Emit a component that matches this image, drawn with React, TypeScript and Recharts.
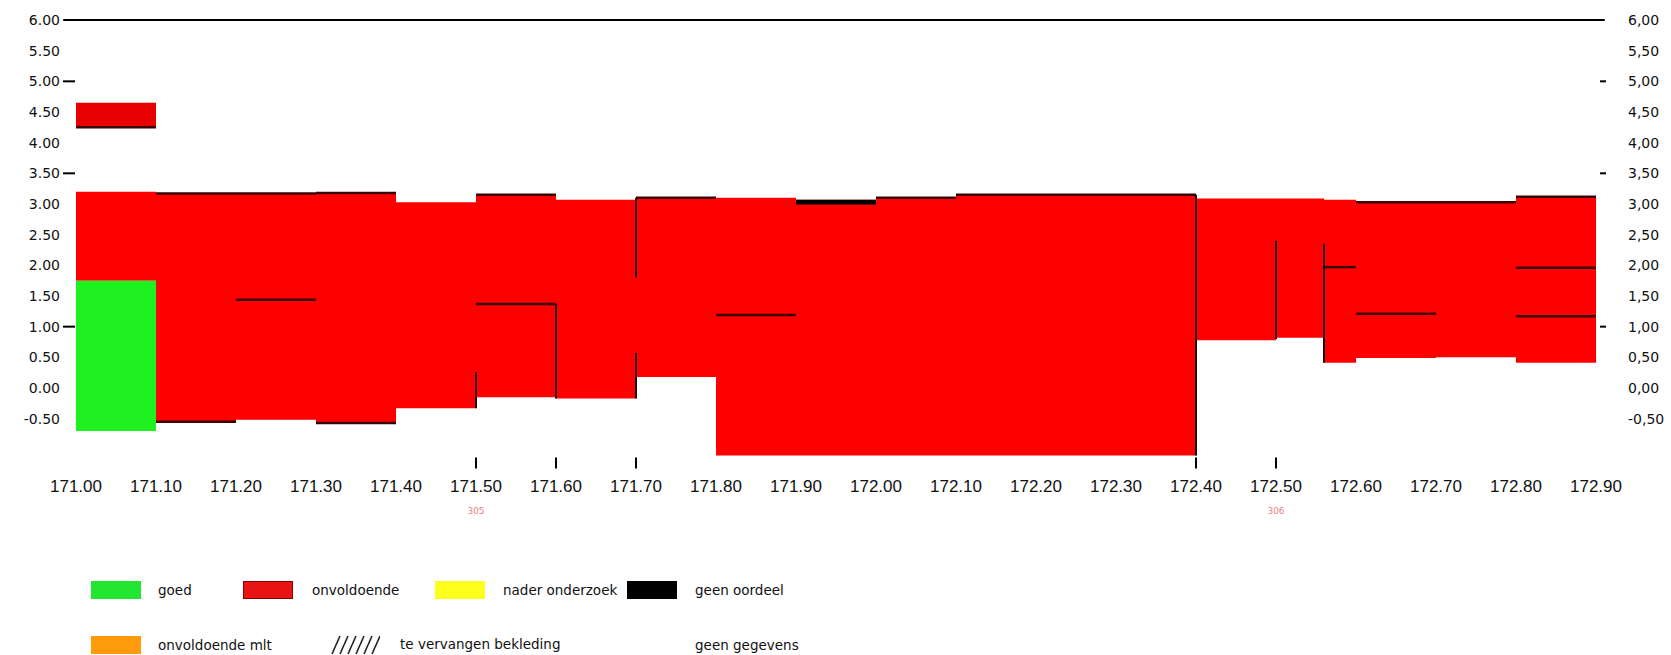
import React from "react"
import { ComposedChart, XAxis, YAxis, Line, ReferenceArea, ReferenceLine } from "recharts"

// dijkvakken: begin, eind, onderkant en bovenkant van de bekleding
const sectionStart = [171.0, 171.1, 171.2, 171.3, 171.4, 171.5, 171.6, 171.7, 171.8, 171.9, 172.0, 172.1, 172.4, 172.5, 172.56, 172.6, 172.7, 172.8]
const sectionEnd = [171.1, 171.2, 171.3, 171.4, 171.5, 171.6, 171.7, 171.8, 171.9, 172.0, 172.1, 172.4, 172.5, 172.56, 172.6, 172.7, 172.8, 172.9]
const sectionBottom = [1.75, -0.55, -0.52, -0.57, -0.33, -0.15, -0.17, 0.18, -1.1, -1.1, -1.1, -1.1, 0.78, 0.82, 0.41, 0.49, 0.5, 0.41]
const sectionTop = [3.2, 3.17, 3.17, 3.18, 3.03, 3.15, 3.07, 3.1, 3.1, 3.07, 3.1, 3.15, 3.09, 3.09, 3.07, 3.03, 3.03, 3.12]

// losse vakken met ander oordeel
const goedStart = [171.0]
const goedEnd = [171.1]
const goedBottom = [-0.7]
const goedTop = [1.75]

const extraStart = [171.0]
const extraEnd = [171.1]
const extraBottom = [4.25]
const extraTop = [4.65]

const geenOordeelStart = [171.9]
const geenOordeelEnd = [172.0]
const geenOordeelBottom = [2.99]
const geenOordeelTop = [3.07]

// laaggrenzen (horizontaal)
const layerFrom = [171.1, 171.2, 171.3, 171.1, 171.3, 171.2, 171.5, 171.5, 171.7, 171.8, 172.0, 172.1, 172.56, 172.6, 172.6, 172.8, 172.8, 172.8, 171.0]
const layerTo = [171.2, 171.3, 171.4, 171.2, 171.4, 171.3, 171.6, 171.6, 171.8, 171.9, 172.1, 172.4, 172.6, 172.7, 172.8, 172.9, 172.9, 172.9, 171.1]
const layerLevel = [3.17, 3.17, 3.18, -0.55, -0.57, 1.44, 3.15, 1.37, 3.1, 1.19, 3.1, 3.15, 1.97, 1.21, 3.03, 3.12, 1.96, 1.17, 4.25]

// vakgrenzen (verticaal)
const edgeAt = [171.5, 171.6, 171.7, 171.7, 172.4, 172.5, 172.56]
const edgeLow = [-0.33, -0.17, -0.17, 1.8, -1.1, 0.8, 0.41]
const edgeHigh = [0.26, 1.37, 0.57, 3.1, 3.15, 2.4, 2.35]

const xTicks = [171.0, 171.1, 171.2, 171.3, 171.4, 171.5, 171.6, 171.7, 171.8, 171.9, 172.0, 172.1, 172.2, 172.3, 172.4, 172.5, 172.6, 172.7, 172.8, 172.9]
const markerTicks = [171.5, 171.6, 171.7, 172.4, 172.5]
const poleAt = [171.5, 172.5]
const poleLabels = ["305", "306"]

const yTicks = [-0.5, 0, 0.5, 1, 1.5, 2, 2.5, 3, 3.5, 4, 4.5, 5, 5.5, 6]
const dashTicks = [5, 3.5, 1]

const legendLabels = ["goed", "onvoldoende", "nader onderzoek", "geen oordeel", "onvoldoende mlt", "te vervangen bekleding", "geen gegevens"]
const legendColors = ["#22e632", "#e81414", "#ffff1e", "#000000", "#ff9a0a", "hatch", "none"]

const RED = "#ff0000"
const LINE = "#3c0000"

const sections = sectionStart.map((x0, i) => ({
  x0,
  x1: sectionEnd[i],
  bottom: sectionBottom[i],
  top: sectionTop[i],
}))

const same = (a: number, b: number) => Math.abs(a - b) < 1e-6

const XTick = ({ x, y, payload }: any) => {
  const v = payload.value as number
  const marked = markerTicks.some((m) => same(m, v))
  const pole = poleAt.findIndex((p) => same(p, v))
  return (
    <g>
      {marked && <line x1={x} x2={x} y1={y - 1} y2={y + 10} stroke="#000" strokeWidth={2} />}
      <text x={x} y={y + 33} textAnchor="middle" fontFamily="Liberation Sans, Arial" fontSize={17} fill="#111">
        {v.toFixed(2)}
      </text>
      {pole >= 0 && (
        <text x={x} y={y + 55} textAnchor="middle" fontFamily="DejaVu Sans" fontSize={9} fill="#f08080">
          {poleLabels[pole]}
        </text>
      )}
    </g>
  )
}

const LeftTick = ({ x, y, payload }: any) => {
  const v = payload.value as number
  return (
    <g>
      {dashTicks.some((d) => same(d, v)) && <line x1={x + 3} x2={x + 15} y1={y} y2={y} stroke="#000" strokeWidth={2} />}
      <text x={x} y={y} dy="0.35em" textAnchor="end" fontFamily="DejaVu Sans" fontSize={14} fill="#111">
        {v.toFixed(2)}
      </text>
    </g>
  )
}

const RightTick = ({ x, y, payload }: any) => {
  const v = payload.value as number
  return (
    <g>
      {dashTicks.some((d) => same(d, v)) && <line x1={x - 28} x2={x - 22} y1={y} y2={y} stroke="#000" strokeWidth={2} />}
      <text x={x} y={y} dy="0.35em" textAnchor="start" fontFamily="DejaVu Sans" fontSize={14} fill="#111">
        {v.toFixed(2).replace(".", ",")}
      </text>
    </g>
  )
}

const Swatch = ({ color }: { color: string }) => {
  if (color === "hatch") {
    return (
      <svg width={50} height={20} style={{ display: "block" }}>
        {[0, 8, 16, 24, 32, 40].map((o) => (
          <line key={o} x1={o + 2} y1={19} x2={o + 10} y2={1} stroke="#222" strokeWidth={1.6} />
        ))}
      </svg>
    )
  }
  if (color === "none") return <div style={{ width: 50, height: 18 }} />
  return (
    <div
      style={{
        width: 50,
        height: 18,
        background: color,
        boxSizing: "border-box",
        border: color === "#e81414" ? "1px solid #8a0000" : "none",
      }}
    />
  )
}

const legendPos = [
  { left: 91, top: 581, text: 158 },
  { left: 243, top: 581, text: 312 },
  { left: 435, top: 581, text: 503 },
  { left: 627, top: 581, text: 695 },
  { left: 91, top: 636, text: 158 },
  { left: 330, top: 635, text: 400 },
  { left: 627, top: 636, text: 695 },
]

export default function App() {
  return (
    <div
      style={{
        position: "absolute",
        left: 0,
        top: 0,
        width: 1671,
        height: 655,
        background: "#fff",
        overflow: "hidden",
      }}
    >
      <ComposedChart width={1671} height={540} data={sections} margin={{ top: 20, right: 0, left: 0, bottom: 21.5 }}>
        <XAxis
          type="number"
          dataKey="x0"
          domain={[171.0, 172.9]}
          ticks={xTicks}
          interval={0}
          allowDataOverflow
          axisLine={false}
          tickLine={false}
          tickSize={0}
          tickMargin={0}
          height={60}
          tick={<XTick />}
        />
        <YAxis
          yAxisId="left"
          type="number"
          domain={[-1.15, 6]}
          ticks={yTicks}
          interval={0}
          allowDataOverflow
          axisLine={false}
          tickLine={false}
          tickSize={0}
          tickMargin={16}
          width={76}
          tick={<LeftTick />}
        />
        <YAxis
          yAxisId="right"
          orientation="right"
          type="number"
          domain={[-1.15, 6]}
          ticks={yTicks}
          interval={0}
          allowDataOverflow
          axisLine={false}
          tickLine={false}
          tickSize={0}
          tickMargin={32}
          width={75}
          tick={<RightTick />}
        />

        {sections.map((s, i) => (
          <ReferenceArea
            key={`s${i}`}
            yAxisId="left"
            x1={s.x0}
            x2={s.x1}
            y1={s.bottom}
            y2={s.top}
            fill={RED}
            fillOpacity={1}
            stroke="none"
          />
        ))}
        {goedStart.map((x0, i) => (
          <ReferenceArea key={`g${i}`} yAxisId="left" x1={x0} x2={goedEnd[i]} y1={goedBottom[i]} y2={goedTop[i]} fill="#1ff01f" fillOpacity={1} stroke="none" />
        ))}
        {extraStart.map((x0, i) => (
          <ReferenceArea key={`e${i}`} yAxisId="left" x1={x0} x2={extraEnd[i]} y1={extraBottom[i]} y2={extraTop[i]} fill="#e60000" fillOpacity={1} stroke="none" />
        ))}
        {geenOordeelStart.map((x0, i) => (
          <ReferenceArea key={`b${i}`} yAxisId="left" x1={x0} x2={geenOordeelEnd[i]} y1={geenOordeelBottom[i]} y2={geenOordeelTop[i]} fill="#000" fillOpacity={1} stroke="none" />
        ))}

        {layerFrom.map((x0, i) => (
          <ReferenceLine
            key={`l${i}`}
            yAxisId="left"
            segment={[{ x: x0, y: layerLevel[i] }, { x: layerTo[i], y: layerLevel[i] }]}
            stroke={LINE}
            strokeWidth={2.5}
          />
        ))}
        {edgeAt.map((x, i) => (
          <ReferenceLine
            key={`v${i}`}
            yAxisId="left"
            segment={[{ x, y: edgeLow[i] }, { x, y: edgeHigh[i] }]}
            stroke="#1a0000"
            strokeWidth={2}
          />
        ))}
        <ReferenceLine
          yAxisId="left"
          segment={[{ x: 170.984, y: 6 }, { x: 172.911, y: 6 }]}
          stroke="#000"
          strokeWidth={2}
          ifOverflow="visible"
        />

        <Line yAxisId="left" dataKey="top" stroke="none" dot={false} activeDot={false} isAnimationActive={false} />
        <Line yAxisId="right" dataKey="bottom" stroke="none" dot={false} activeDot={false} isAnimationActive={false} />
      </ComposedChart>

      {legendLabels.map((label, i) => (
        <React.Fragment key={label}>
          <div style={{ position: "absolute", left: legendPos[i].left, top: legendPos[i].top }}>
            <Swatch color={legendColors[i]} />
          </div>
          <div
            style={{
              position: "absolute",
              left: legendPos[i].text,
              top: legendPos[i].top,
              height: 18,
              lineHeight: "18px",
              fontFamily: "DejaVu Sans",
              fontSize: 13.5,
              color: "#111",
              whiteSpace: "nowrap",
            }}
          >
            {label}
          </div>
        </React.Fragment>
      ))}
    </div>
  )
}
